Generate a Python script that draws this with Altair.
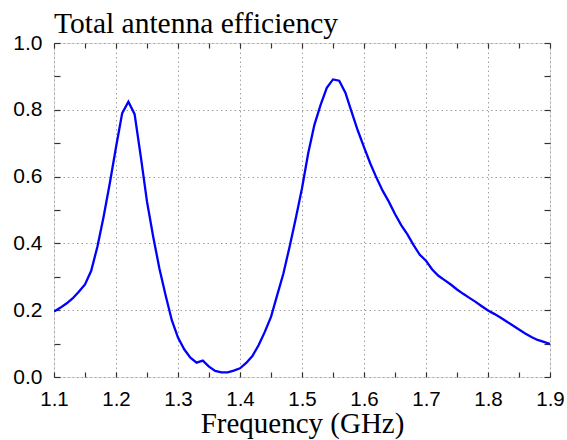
import altair as alt
import pandas as pd

# Frequency (GHz) and total antenna efficiency
freq = [1.10, 1.11, 1.12, 1.13, 1.14, 1.15, 1.16, 1.17, 1.18, 1.19,
        1.20, 1.21, 1.22, 1.23, 1.24, 1.25, 1.26, 1.27, 1.28, 1.29,
        1.30, 1.31, 1.32, 1.33, 1.34, 1.35, 1.36, 1.37, 1.38, 1.39,
        1.40, 1.41, 1.42, 1.43, 1.44, 1.45, 1.46, 1.47, 1.48, 1.49,
        1.50, 1.51, 1.52, 1.53, 1.54, 1.55, 1.56, 1.57, 1.58, 1.59,
        1.60, 1.61, 1.62, 1.63, 1.64, 1.65, 1.66, 1.67, 1.68, 1.69,
        1.70, 1.71, 1.72, 1.73, 1.74, 1.75, 1.76, 1.77, 1.78, 1.79,
        1.80, 1.81, 1.82, 1.83, 1.84, 1.85, 1.86, 1.87, 1.88, 1.89,
        1.90]
efficiency = [0.196, 0.207, 0.220, 0.235, 0.255, 0.277, 0.318, 0.390, 0.480, 0.580,
              0.688, 0.790, 0.824, 0.787, 0.660, 0.525, 0.420, 0.325, 0.245, 0.170,
              0.118, 0.083, 0.058, 0.043, 0.049, 0.031, 0.018, 0.014, 0.014, 0.019,
              0.026, 0.042, 0.063, 0.095, 0.135, 0.180, 0.245, 0.310, 0.390, 0.475,
              0.565, 0.670, 0.755, 0.815, 0.866, 0.891, 0.887, 0.851, 0.794, 0.738,
              0.688, 0.640, 0.597, 0.558, 0.525, 0.488, 0.455, 0.427, 0.395, 0.366,
              0.348, 0.322, 0.303, 0.290, 0.277, 0.262, 0.249, 0.237, 0.225, 0.212,
              0.199, 0.189, 0.178, 0.166, 0.154, 0.142, 0.130, 0.120, 0.111, 0.105,
              0.099]

x_labels = [1.1, 1.2, 1.3, 1.4, 1.5, 1.6, 1.7, 1.8, 1.9]
y_labels = [0.0, 0.2, 0.4, 0.6, 0.8, 1.0]
x_minor = [1.1, 1.15, 1.2, 1.25, 1.3, 1.35, 1.4, 1.45, 1.5, 1.55,
           1.6, 1.65, 1.7, 1.75, 1.8, 1.85, 1.9]
y_minor = [0.0, 0.1, 0.2, 0.3, 0.4, 0.5, 0.6, 0.7, 0.8, 0.9, 1.0]

df = pd.DataFrame({"f": freq, "e": efficiency})

xs = alt.Scale(domain=[1.1, 1.9], nice=False, zero=False)
ys = alt.Scale(domain=[0, 1], nice=False, zero=False)

SANS = "Liberation Sans"
SERIF = "Liberation Serif"
TICK = "#333333"

base = alt.Chart(df)

main = base.mark_line(color="#0000ff", strokeWidth=2.3, clip=True).encode(
    x=alt.X("f:Q", scale=xs, axis=alt.Axis(
        orient="bottom", values=x_labels, format=".1f",
        title="Frequency (GHz)", titleFont=SERIF, titleFontSize=29,
        titleFontWeight="normal", titleColor="black",
        titleBaseline="alphabetic", titleY=55,
        labelFont=SANS, labelFontSize=20.5, labelColor="black",
        labelPadding=12, tickSize=0, domain=False,
        grid=True, gridColor="#a0a0a0", gridDash=[1.5, 3], gridWidth=1,
        labelFlush=False)),
    y=alt.Y("e:Q", scale=ys, axis=alt.Axis(
        orient="left", values=y_labels, format=".1f", title=None,
        labelFont=SANS, labelFontSize=21, labelColor="black",
        labelPadding=12, tickSize=0, domain=False,
        grid=True, gridColor="#a0a0a0", gridDash=[1.5, 3], gridWidth=1,
        labelFlush=False)),
)

ticks_bl = base.mark_line(opacity=0).encode(
    x=alt.X("f:Q", scale=xs, axis=alt.Axis(
        orient="bottom", values=x_minor, offset=-5, tickSize=5,
        tickColor=TICK, tickWidth=1.2, labels=False, domain=False,
        grid=False, title=None)),
    y=alt.Y("e:Q", scale=ys, axis=alt.Axis(
        orient="left", values=y_minor, offset=-6, tickSize=6,
        tickColor=TICK, tickWidth=1.2, labels=False, domain=False,
        grid=False, title=None)),
)

ticks_tr = base.mark_line(opacity=0).encode(
    x=alt.X("f:Q", scale=xs, axis=alt.Axis(
        orient="top", values=x_minor, offset=-5, tickSize=5,
        tickColor=TICK, tickWidth=1.2, labels=False, domain=False,
        grid=False, title=None)),
    y=alt.Y("e:Q", scale=ys, axis=alt.Axis(
        orient="right", values=y_minor, offset=-6, tickSize=6,
        tickColor=TICK, tickWidth=1.2, labels=False, domain=False,
        grid=False, title=None)),
)

chart = alt.layer(main, ticks_bl, ticks_tr).resolve_axis(
    x="independent", y="independent"
).properties(
    width=496, height=334,
    autosize=alt.AutoSizeParams(type="none"),
    padding={"left": 54, "top": 43, "right": 17, "bottom": 63},
    title=alt.Title("Total antenna efficiency", anchor="start", frame="group",
                    font=SERIF, fontSize=29.5, fontWeight="normal", color="black",
                    baseline="alphabetic", offset=10, dx=0, dy=40),
).configure_view(
    stroke="#333333", strokeWidth=1.5
).configure(background="white")

chart.save("out.html", embed_options={"renderer": "svg", "actions": False})
